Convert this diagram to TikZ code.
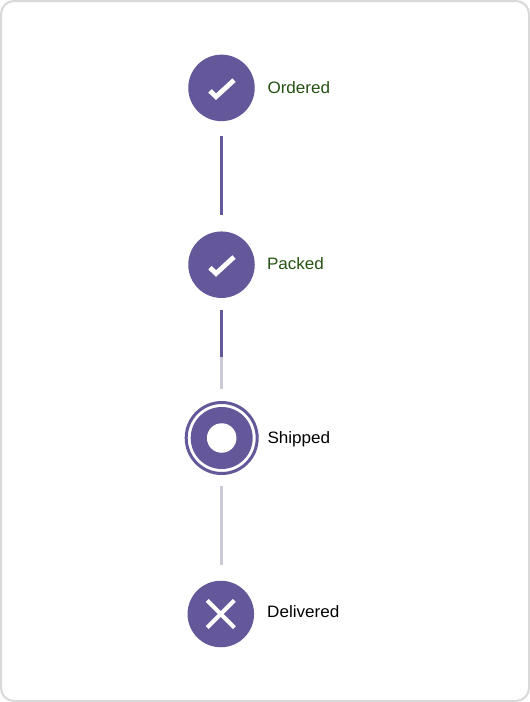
\documentclass[tikz,border=0pt]{standalone}
\usepackage{fontspec}
\setmainfont{Liberation Sans}[FakeStretch=1.035]
\usetikzlibrary{calc}
\definecolor{stepPurple}{HTML}{65589A}
\definecolor{trackGrey}{HTML}{CCC9D6}
\definecolor{doneGreen}{HTML}{265212}
\definecolor{cardEdge}{HTML}{D9D9D9}
\tikzset{
  x=1pt,y=-1pt,
  stepdot/.style={circle,fill=stepPurple,inner sep=0pt,outer sep=0pt,minimum size=66.5pt},
  currentdot/.style={circle,fill=stepPurple,inner sep=0pt,outer sep=0pt,minimum size=62pt},
  currentring/.style={circle,draw=stepPurple,line width=3pt,inner sep=0pt,outer sep=1.5pt,minimum size=71pt},
  currenthole/.style={circle,fill=white,inner sep=0pt,minimum size=29.5pt},
  steplabel/.style={anchor=base west,inner sep=0pt,font=\fontsize{16.5}{19}\selectfont},
  donelabel/.style={steplabel,text=doneGreen},
  glyph/.style={draw=white,line width=4.8pt},
  track/.style={line width=3.4pt},
  trackdone/.style={track,draw=stepPurple},
  trackopen/.style={track,draw=trackGrey}
}
\begin{document}
\begin{tikzpicture}
\useasboundingbox (0,0) rectangle (530,702);
\fill[white] (0,0) rectangle (530,702);
\draw[cardEdge,line width=2pt,rounded corners=13pt] (1,1) rectangle (529,701);

\node[stepdot] (ordered) at (221.5,87.9) {};
\node[stepdot] (packed) at (221.5,264.7) {};
\node[currentring] (shippedring) at (221.7,438) {};
\node[currentdot] (shipped) at (221.7,438) {};
\node[currenthole] (shippedhole) at (221.7,438) {};
\node[stepdot] (delivered) at (220.8,614) {};

\draw[glyph,shift={(ordered.center)}] (-11.5,3) -- (-5.5,8.8) -- (12.5,-7.7);
\draw[glyph,shift={(packed.center)}] (-11.5,3) -- (-5.5,8.8) -- (12.5,-7.7);
\draw[glyph,line width=4pt,shift={(delivered.center)}] (-13.6,-13.6) -- (13.6,13.6) (-13.6,13.6) -- (13.6,-13.6);

\node[donelabel] (lordered) at (267.3,93) {Ordered};
\node[donelabel] (lpacked) at (266.8,269.6) {Packed};
\node[steplabel] (lshipped) at (267.3,443.3) {Shipped};
\node[steplabel] (ldelivered) at (267,617.8) {Delivered};

\draw[trackdone,shorten <=15pt,shorten >=16.5pt] (ordered.south) -- (packed.north);
\coordinate (split) at (221.5,356.5);
\draw[trackdone,shorten <=12.5pt] (packed.south) -- (split);
\draw[trackopen,shorten >=12pt] (split) -- (split |- shippedring.north);
\draw[trackopen,shorten <=10.6pt,shorten >=16pt] (shippedring.south) -- (shippedring.south |- delivered.north);
\end{tikzpicture}
\end{document}
